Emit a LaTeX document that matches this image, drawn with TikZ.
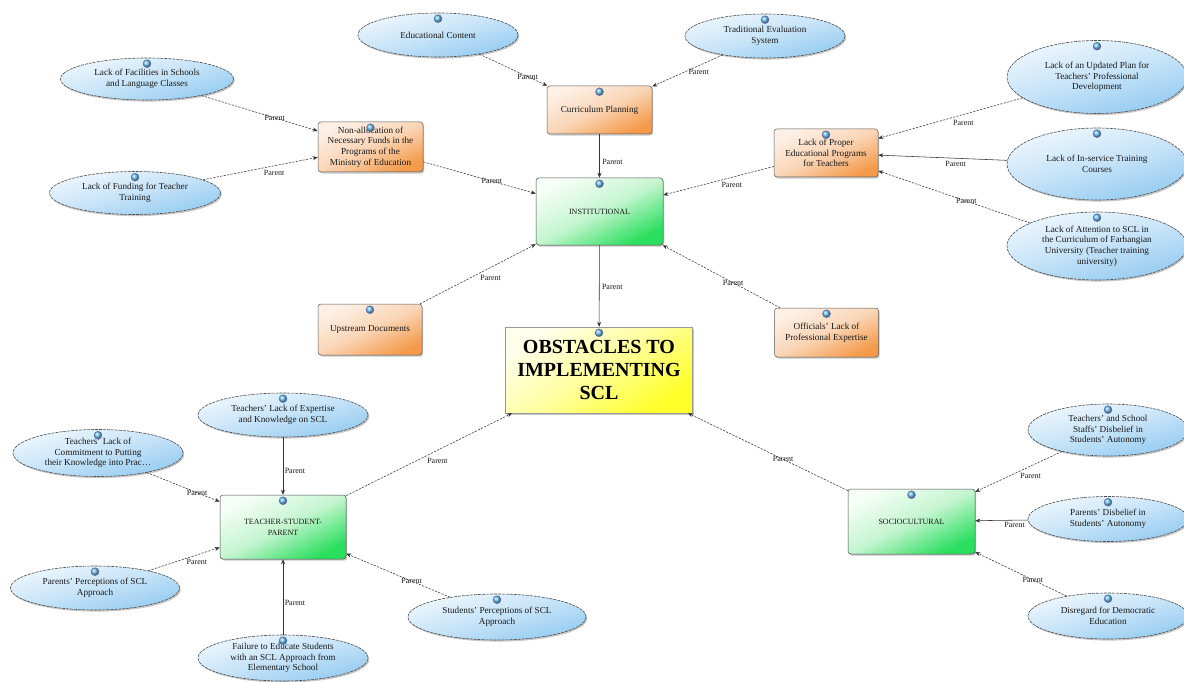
\documentclass[tikz,border=0pt]{standalone}
\usepackage{fontspec}
\setmainfont{Liberation Serif}
\usetikzlibrary{shapes.geometric,arrows.meta,shadows}
\definecolor{ellA}{HTML}{EEF7FD}
\definecolor{ellM}{HTML}{C6E3F8}
\definecolor{ellB}{HTML}{94CBF0}
\definecolor{orA}{HTML}{FDF0E6}
\definecolor{orM}{HTML}{FAD5B6}
\definecolor{orB}{HTML}{F49A4A}
\definecolor{grA}{HTML}{F6FEF7}
\definecolor{grM}{HTML}{C4F5CF}
\definecolor{grB}{HTML}{2ADE5E}
\definecolor{yeA}{HTML}{FFFFEC}
\definecolor{yeM}{HTML}{FFFF9C}
\definecolor{yeB}{HTML}{FFFF2A}
\definecolor{lnC}{HTML}{333333}
\definecolor{portC}{HTML}{6FC0EE}
\tikzset{
  txt/.style={font=\fontsize{9.2}{10.6}\selectfont, align=center, text=black!90},
  shd/.style={drop shadow={shadow xshift=1.2pt, shadow yshift=-1.6pt, opacity=0.22, fill=black}},
  ell/.style={txt, shd, ellipse, inner sep=0pt, draw=black!70, line width=0.6pt,
    dash pattern=on 3pt off 1pt, top color=ellA, bottom color=ellB, middle color=ellM, shading angle=15},
  obox/.style={txt, shd, rectangle, rounded corners=3pt, inner sep=1pt, draw=black!65, line width=0.5pt,
    top color=orA, bottom color=orB, middle color=orM, shading angle=25, minimum width=105pt},
  gbox/.style={txt, shd, rectangle, rounded corners=3pt, inner sep=1pt, draw=black!70, line width=0.5pt,
    top color=grA, bottom color=grB, middle color=grM, shading angle=27, font=\fontsize{8}{11}\selectfont},
  ybox/.style={shd, rectangle, inner sep=1pt, draw=black!40, line width=0.4pt, align=center,
    top color=yeA, bottom color=yeB, middle color=yeM, shading angle=35, font=\bfseries\fontsize{20}{23}\selectfont},
  port/.style={circle, inner sep=0pt, minimum size=8pt, ball color=portC, draw=blue!50!black!60, line width=0.3pt},
  conn/.style={draw=lnC, line width=0.55pt, -{Stealth[length=5pt,width=4pt]}},
  dsh/.style={dash pattern=on 2.2pt off 1.3pt},
  lbl/.style={font=\fontsize{8}{9}\selectfont, inner sep=0.5pt, text=black!90}
}
\begin{document}
\begin{tikzpicture}[x=1pt,y=-1pt]
\fill[white] (0,0) rectangle (1184,682);
\useasboundingbox (0,0) rectangle (1184,682);

% nodes
\node[ell, minimum width=160pt, minimum height=44pt] (EC) at (438,35) {Educational Content};
\node[ell, minimum width=160pt, minimum height=44pt] (TES) at (765,36) {Traditional Evaluation\\System};
\node[obox, minimum height=48pt] (CP) at (599.5,110) {Curriculum Planning};
\node[gbox, minimum width=127pt, minimum height=67pt] (INST) at (599.5,211.5) {INSTITUTIONAL};
\node[ell, minimum width=173pt, minimum height=42pt] (FAC) at (147,79) {Lack of Facilities in Schools\\and Language Classes};
\node[ell, minimum width=171pt, minimum height=43pt] (FUN) at (135,193) {Lack of Funding for Teacher\\Training};
\node[obox, minimum height=50pt] (NA) at (370.5,147) {Non-allocation of\\Necessary Funds in the\\Programs of the\\Ministry of Education};
\node[obox, minimum width=104pt, minimum height=48pt] (LP) at (826,153) {Lack of Proper\\Educational Programs\\for Teachers};
\node[ell, minimum width=180pt, minimum height=73pt] (UPD) at (1097,77) {Lack of an Updated Plan for\\Teachers' Professional\\Development};
\node[ell, minimum width=180pt, minimum height=72pt] (INS) at (1097,164) {Lack of In-service Training\\Courses};
\node[ell, minimum width=180pt, minimum height=68pt] (ATT) at (1097,246) {Lack of Attention to SCL in\\the Curriculum of Farhangian\\University (Teacher training\\university)};
\node[obox, minimum width=104pt, minimum height=51pt] (UPS) at (370,329.5) {Upstream Documents};
\node[obox, minimum width=104pt, minimum height=49pt] (OFF) at (826.5,332.5) {Officials' Lack of\\Professional Expertise};
\node[ybox, minimum width=187pt, minimum height=86pt] (OBS) at (599,370) {OBSTACLES TO\\IMPLEMENTING\\SCL};
\node[ell, minimum width=170pt, minimum height=44pt] (TLE) at (283,415) {Teachers' Lack of Expertise\\and Knowledge on SCL};
\node[ell, minimum width=170pt, minimum height=47pt] (COM) at (98,453) {Teachers' Lack of\\Commitment to Putting\\their Knowledge into Prac\ldots};
\node[gbox, minimum width=126pt, minimum height=64pt] (TSP) at (283,527) {TEACHER-STUDENT-\\PARENT};
\node[ell, minimum width=169pt, minimum height=44pt] (PP) at (95,588) {Parents' Perceptions of SCL\\Approach};
\node[ell, minimum width=170pt, minimum height=46pt] (FAIL) at (283,658) {Failure to Educate Students\\with an SCL Approach from\\Elementary School};
\node[ell, minimum width=178pt, minimum height=46pt] (SP) at (497,617) {Students' Perceptions of SCL\\Approach};
\node[gbox, minimum width=127pt, minimum height=65pt] (SOC) at (911.5,521.5) {SOCIOCULTURAL};
\node[ell, minimum width=160pt, minimum height=52pt] (TSD) at (1108,430) {Teachers' and School\\Staffs' Disbelief in\\Students' Autonomy};
\node[ell, minimum width=160pt, minimum height=45pt] (PD) at (1108,519) {Parents' Disbelief in\\Students' Autonomy};
\node[ell, minimum width=160pt, minimum height=46pt] (DIS) at (1108,616) {Disregard for Democratic\\Education};

% ports
\foreach \n in {EC,TES,CP,INST,FAC,FUN,NA,LP,UPD,INS,ATT,UPS,OFF,OBS,TLE,COM,TSP,PP,FAIL,SP,SOC,TSD,PD,DIS}
  \node[port] (p\n) at ([yshift=-6pt]\n.north) {};

% connectors
\draw[conn,dsh] (EC) -- (CP) node[lbl,pos=.71] {Parent};
\draw[conn,dsh] (TES) -- (CP) node[lbl,pos=.34,below=3pt] {Parent};
\draw[conn] (CP) -- (INST) node[lbl,pos=.64,right=2pt] {Parent};
\draw[conn,dsh] (FAC) -- (NA) node[lbl,pos=.63] {Parent};
\draw[conn,dsh] (FUN) -- (NA) node[lbl,pos=.62,below=4pt] {Parent};
\draw[conn,dsh] (NA) -- (INST) node[lbl,pos=.61] {Parent};
\draw[conn,dsh] (LP) -- (INST) node[lbl,pos=.38,below=4pt] {Parent};
\draw[conn,dsh] (UPD) -- (LP) node[lbl,pos=.41,below=5pt] {Parent};
\draw[conn] (INS) -- (LP) node[lbl,pos=.4,below=2pt] {Parent};
\draw[conn,dsh] (ATT) -- (LP) node[lbl,pos=.42] {Parent};
\draw[conn,dsh] (UPS) -- (INST) node[lbl,pos=.61,below=7pt] {Parent};
\draw[conn,dsh] (OFF) -- (INST) node[lbl,pos=.4] {Parent};
\draw[conn] (INST) -- (OBS) node[lbl,pos=.51,right=2pt] {Parent};
\draw[conn,dsh] (TSP) -- (OBS) node[lbl,pos=.55,below=7pt] {Parent};
\draw[conn,dsh] (SOC) -- (OBS) node[lbl,pos=.405] {Parent};
\draw[conn] (TLE) -- (TSP) node[lbl,pos=.59,right=1pt] {Parent};
\draw[conn,dsh] (COM) -- (TSP) node[lbl,pos=.69] {Parent};
\draw[conn,dsh] (PP) -- (TSP) node[lbl,pos=.68,below=4pt] {Parent};
\draw[conn] (FAIL) -- (TSP) node[lbl,pos=.42,right=1pt] {Parent};
\draw[conn,dsh] (SP) -- (TSP) node[lbl,pos=.37] {Parent};
\draw[conn,dsh] (TSD) -- (SOC) node[lbl,pos=.36,below=6pt] {Parent};
\draw[conn] (PD) -- (SOC) node[lbl,pos=.25,below=1pt] {Parent};
\draw[conn,dsh] (DIS) -- (SOC) node[lbl,pos=.37] {Parent};
\end{tikzpicture}
\end{document}
